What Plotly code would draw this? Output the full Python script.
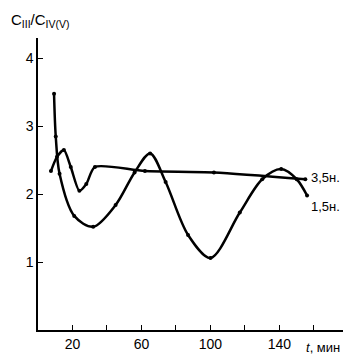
import plotly.graph_objects as go

# Series 1.5 н.
t_15 = [9.3, 10.3, 12.5, 21, 32, 45, 56, 65, 74, 87, 100, 117, 130, 141, 150, 156]
c_15 = [3.48, 2.85, 2.30, 1.68, 1.52, 1.84, 2.32, 2.60, 2.18, 1.40, 1.06, 1.73, 2.22, 2.37, 2.22, 1.98]
# Series 3.5 н.
t_35 = [7.5, 11, 15, 19, 24, 28, 33, 62, 102, 155]
c_35 = [2.34, 2.55, 2.65, 2.40, 2.05, 2.15, 2.40, 2.34, 2.32, 2.22]

x_ticks = [20, 40, 60, 80, 100, 120, 140, 160]
x_ticktext = ["20", "", "60", "", "100", "", "140", ""]
y_ticks = [1, 2, 3, 4]

fig = go.Figure()
fig.add_trace(go.Scatter(x=t_15, y=c_15, mode="lines+markers",
                         line=dict(color="black", width=2.5, shape="spline", smoothing=0.9),
                         marker=dict(color="black", size=4)))
fig.add_trace(go.Scatter(x=t_35, y=c_35, mode="lines+markers",
                         line=dict(color="black", width=2.5, shape="spline", smoothing=0.7),
                         marker=dict(color="black", size=4)))

fig.update_layout(
    width=343, height=350, showlegend=False,
    paper_bgcolor="white", plot_bgcolor="white",
    margin=dict(l=30, r=6, t=30, b=22),
    font=dict(family="Liberation Sans, Arial", color="black", size=14),
    xaxis=dict(range=[0, 178], tickvals=x_ticks, ticktext=x_ticktext,
               ticks="inside", ticklen=5, tickcolor="black", showgrid=False,
               zeroline=False, showline=True, linecolor="black", linewidth=1.5),
    yaxis=dict(range=[0, 4.3], tickvals=y_ticks, ticks="inside", ticklen=5,
               tickcolor="black", showgrid=False, zeroline=False,
               showline=True, linecolor="black", linewidth=1.5),
    annotations=[
        dict(text="C<sub>III</sub>/C<sub>IV(V)</sub>", x=0, y=1.0, xref="paper", yref="paper",
             xanchor="left", yanchor="bottom", yshift=6, xshift=-29, showarrow=False,
             font=dict(size=15)),
        dict(text="3,5н.", x=157, y=2.24, xref="x", yref="y", xanchor="left",
             showarrow=False, font=dict(size=13)),
        dict(text="1,5н.", x=157, y=1.82, xref="x", yref="y", xanchor="left",
             showarrow=False, font=dict(size=13)),
        dict(text="<i>t</i>, мин", x=1.0, y=0, xref="paper", yref="paper",
             xanchor="right", yanchor="top", yshift=-8, xshift=-3, showarrow=False,
             font=dict(size=13)),
    ],
)

fig.write_html("out.html")
